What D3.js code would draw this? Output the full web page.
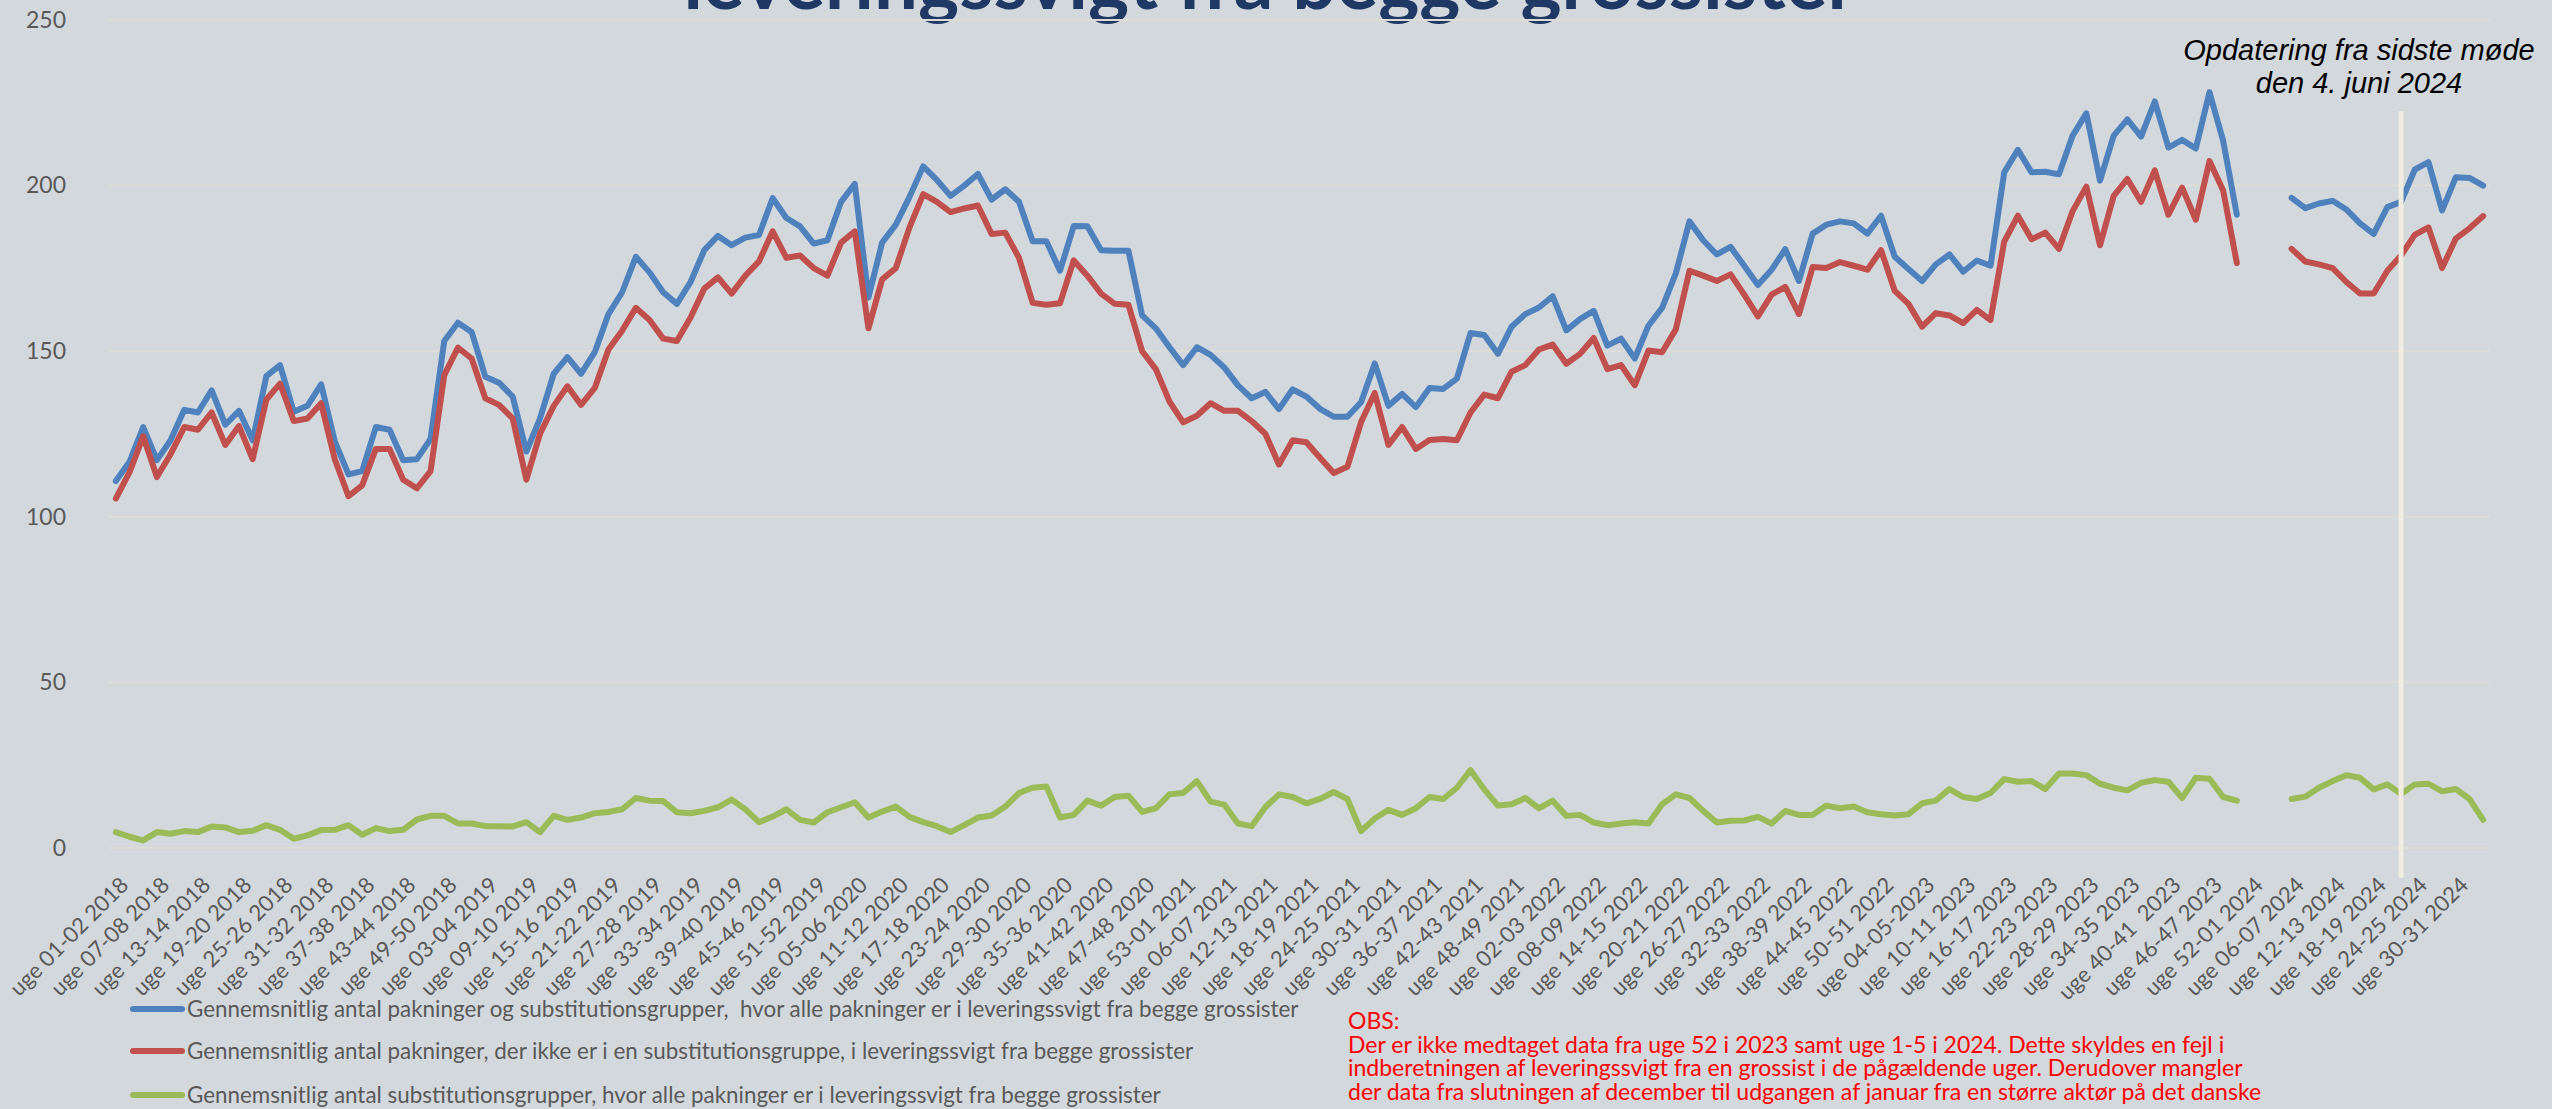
<!DOCTYPE html>
<html>
<head>
<meta charset="utf-8">
<script src="https://cdn.jsdelivr.net/npm/d3@7"></script>
<style>
  body { margin: 0; background: #d3d8dd; }
  svg { display: block; }
  text { font-family: Lato, "Open Sans", sans-serif; }
</style>
</head>
<body>
<svg width="2552" height="1109"></svg>
<script>
// week pairs (one point per two weeks)
var categories = [
  "uge 01-02 2018","uge 03-04 2018","uge 05-06 2018","uge 07-08 2018","uge 09-10 2018","uge 11-12 2018","uge 13-14 2018","uge 15-16 2018","uge 17-18 2018","uge 19-20 2018","uge 21-22 2018","uge 23-24 2018","uge 25-26 2018","uge 27-28 2018","uge 29-30 2018","uge 31-32 2018","uge 33-34 2018","uge 35-36 2018","uge 37-38 2018","uge 39-40 2018","uge 41-42 2018","uge 43-44 2018","uge 45-46 2018","uge 47-48 2018","uge 49-50 2018","uge 51-52 2018",
  "uge 01-02 2019","uge 03-04 2019","uge 05-06 2019","uge 07-08 2019","uge 09-10 2019","uge 11-12 2019","uge 13-14 2019","uge 15-16 2019","uge 17-18 2019","uge 19-20 2019","uge 21-22 2019","uge 23-24 2019","uge 25-26 2019","uge 27-28 2019","uge 29-30 2019","uge 31-32 2019","uge 33-34 2019","uge 35-36 2019","uge 37-38 2019","uge 39-40 2019","uge 41-42 2019","uge 43-44 2019","uge 45-46 2019","uge 47-48 2019","uge 49-50 2019","uge 51-52 2019",
  "uge 01-02 2020","uge 03-04 2020","uge 05-06 2020","uge 07-08 2020","uge 09-10 2020","uge 11-12 2020","uge 13-14 2020","uge 15-16 2020","uge 17-18 2020","uge 19-20 2020","uge 21-22 2020","uge 23-24 2020","uge 25-26 2020","uge 27-28 2020","uge 29-30 2020","uge 31-32 2020","uge 33-34 2020","uge 35-36 2020","uge 37-38 2020","uge 39-40 2020","uge 41-42 2020","uge 43-44 2020","uge 45-46 2020","uge 47-48 2020","uge 49-50 2020","uge 51-52 2020",
  "uge 53-01 2021",
  "uge 02-03 2021","uge 04-05 2021","uge 06-07 2021","uge 08-09 2021","uge 10-11 2021","uge 12-13 2021","uge 14-15 2021","uge 16-17 2021","uge 18-19 2021","uge 20-21 2021","uge 22-23 2021","uge 24-25 2021","uge 26-27 2021","uge 28-29 2021","uge 30-31 2021","uge 32-33 2021","uge 34-35 2021","uge 36-37 2021","uge 38-39 2021","uge 40-41 2021","uge 42-43 2021","uge 44-45 2021","uge 46-47 2021","uge 48-49 2021","uge 50-51 2021",
  "uge 52-01 2022",
  "uge 02-03 2022","uge 04-05 2022","uge 06-07 2022","uge 08-09 2022","uge 10-11 2022","uge 12-13 2022","uge 14-15 2022","uge 16-17 2022","uge 18-19 2022","uge 20-21 2022","uge 22-23 2022","uge 24-25 2022","uge 26-27 2022","uge 28-29 2022","uge 30-31 2022","uge 32-33 2022","uge 34-35 2022","uge 36-37 2022","uge 38-39 2022","uge 40-41 2022","uge 42-43 2022","uge 44-45 2022","uge 46-47 2022","uge 48-49 2022","uge 50-51 2022",
  "uge 52-01 2023",
  "uge 02-03 2023","uge 04-05-2023","uge 06-07 2023","uge 08-09 2023","uge 10-11 2023","uge 12-13 2023","uge 14-15 2023","uge 16-17 2023","uge 18-19 2023","uge 20-21 2023","uge 22-23 2023","uge 24-25 2023","uge 26-27 2023","uge 28-29 2023","uge 30-31 2023","uge 32-33 2023","uge 34-35 2023","uge 36-37 2023","uge 38-39 2023","uge 40-41  2023","uge 42-43 2023","uge 44-45 2023","uge 46-47 2023","uge 48-49 2023","uge 50-51 2023",
  "uge 52-01 2024",
  "uge 02-03 2024","uge 04-05 2024","uge 06-07 2024","uge 08-09 2024","uge 10-11 2024","uge 12-13 2024","uge 14-15 2024","uge 16-17 2024","uge 18-19 2024","uge 20-21 2024","uge 22-23 2024","uge 24-25 2024","uge 26-27 2024","uge 28-29 2024","uge 30-31 2024","uge 32-33 2024","uge 34-35 2024"
];

// pakninger og substitutionsgrupper (blue)
var pakningerOgGrupper = [
  110.8,116.6,127.1,117.1,123.1,132.3,131.5,138.2,127.8,132,123.1,142.5,145.8,131.7,133.5,140,122.8,112.8,113.8,127.1,126.3,117.1,117.4,123.5,153.1,158.6,
  155.8,142.3,140.5,136.3,119.7,129.7,143.2,148.2,143.2,149.7,161.2,167.8,178.5,173.8,167.8,164.3,170.9,180.5,184.8,182,184.3,185.1,196.2,190.2,187.7,182.5,
  183.5,195.1,200.5,166.2,182.8,188.2,196.6,205.8,201.7,196.9,200,203.5,195.8,198.9,195.1,183.2,183.2,174.3,187.8,187.7,180.5,180.3,180.3,160.8,156.9,151.2,
  145.8,
  151.2,148.9,145.1,139.7,135.8,137.7,132.5,138.5,136.3,132.6,130.2,130.2,134.6,146.3,133.5,137.1,133.1,138.9,138.6,141.7,155.5,154.9,149.2,157.4,161.2,
  163.2,
  166.6,156.3,159.7,162.2,151.7,153.8,147.8,157.7,163.1,173.5,189.2,183.5,179.2,181.5,175.8,170,174.6,180.8,171.2,185.5,188.2,189.2,188.6,185.5,190.9,
  178.5,
  174.8,171.2,176.2,179.2,174,177.4,175.8,204,210.8,204,204.2,203.4,215.1,221.8,201.5,215.1,220,214.8,225.4,211.5,213.8,211.2,228.2,213.5,191.2,
  null,
  null,null,196.3,193.2,194.6,195.4,192.8,188.6,185.4,193.5,195.1,204.8,207.1,192.5,202.5,202.3,200
];

// pakninger uden substitutionsgruppe (red)
var pakningerUdenGruppe = [
  105.5,113.5,124.3,112,118.9,127.1,126.3,131.5,121.7,127.4,117.4,135.4,140.2,128.9,129.7,134.3,117.4,106.2,109.5,120.5,120.5,111.2,108.6,113.8,142.8,151.1,
  147.8,135.8,133.8,129.7,111.2,125.1,133.5,139.4,133.8,138.9,150.5,156.2,163.1,159.4,153.8,153.1,160.2,168.9,172.3,167.4,172.8,177.1,186.2,178.2,178.9,175.1,
  172.8,182.8,186.2,156.9,171.7,175.1,187.4,197.4,195.1,192,193.1,194,185.4,185.8,178.2,164.6,164,164.5,177.4,172.8,167.4,164.3,164,150,144.6,134.8,
  128.5,
  130.5,134.3,132,132,128.9,125.1,115.8,123.1,122.5,117.8,113.2,115.1,128.6,137.4,121.7,127.1,120.5,123.2,123.5,123.1,131.5,136.9,135.8,143.8,145.8,
  150.5,
  152,146.2,149.2,154,144.6,145.8,139.7,150.2,149.7,156.6,174.3,172.8,171.2,173.2,167.1,160.5,167.1,169.4,161.2,175.4,175.1,176.9,175.8,174.6,180.5,
  168.2,
  164.3,157.4,161.5,160.8,158.5,162.5,159.4,183.1,190.9,183.8,185.8,180.9,192.3,199.7,182,196.9,202,195.1,204.6,191.2,199.4,189.7,207.4,198.5,176.6,
  null,
  null,null,180.9,177.1,176.2,175.1,170.9,167.4,167.4,174.3,178.9,185.1,187.4,175.1,184,187.1,190.8
];

// substitutionsgrupper (green)
var substitutionsgrupper = [
  4.8,3.4,2.3,4.8,4.3,5.1,4.8,6.5,6.2,4.8,5.2,6.9,5.5,2.8,3.8,5.4,5.5,6.9,4.0,6.0,5.1,5.5,8.6,9.7,9.7,7.4,
  7.4,6.6,6.6,6.5,7.8,4.8,9.7,8.5,9.2,10.5,10.9,11.7,15.1,14.3,14.2,10.8,10.5,11.2,12.3,14.6,11.7,7.8,9.5,11.7,8.5,7.7,
  10.8,12.3,13.8,9.2,11.0,12.5,9.4,7.8,6.6,4.8,6.9,9.2,9.8,12.5,16.6,18.2,18.6,9.2,10.0,14.3,12.8,15.4,15.8,10.9,12.0,16.2,
  16.6,
  20.2,14.0,13.1,7.4,6.6,12.3,16.2,15.4,13.5,14.8,16.9,14.8,5.1,8.9,11.5,10.0,12.0,15.4,14.8,18.2,23.5,17.7,12.8,13.2,15.1,
  12.0,
  14.3,9.7,10.0,7.7,6.9,7.4,7.8,7.4,13.2,16.2,15.1,11.2,7.7,8.2,8.3,9.4,7.4,11.2,10.0,10.0,12.8,12.0,12.5,10.8,10.2,
  9.8,
  10.2,13.5,14.3,17.8,15.4,14.8,16.6,20.8,20.0,20.2,17.8,22.5,22.5,22.0,19.4,18.2,17.4,19.7,20.5,20.0,15.1,21.2,20.9,15.4,14.3,
  null,
  null,null,14.8,15.5,18.2,20.2,22.0,21.2,17.7,19.2,16.3,19.2,19.4,17.1,17.8,14.8,8.5
];

var yTicks = [0, 50, 100, 150, 200, 250];
var seriesNames = [
  "Gennemsnitlig antal pakninger og substitutionsgrupper,  hvor alle pakninger er i leveringssvigt fra begge grossister",
  "Gennemsnitlig antal pakninger, der ikke er i en substitutionsgruppe, i leveringssvigt fra begge grossister",
  "Gennemsnitlig antal substitutionsgrupper, hvor alle pakninger er i leveringssvigt fra begge grossister"
];
var seriesColors = ["#4f81bd", "#c0504d", "#9bbb59"];
var meetingWeek = "uge 22-23 2024";
var noteLines = ["Opdatering fra sidste møde", "den 4. juni 2024"];
var obsLines = [
  "OBS:",
  "Der er ikke medtaget data fra uge 52 i 2023 samt uge 1-5 i 2024. Dette skyldes en fejl i",
  "indberetningen af leveringssvigt fra en grossist i de pågældende uger. Derudover mangler",
  "der data fra slutningen af december til udgangen af januar fra en større aktør på det danske"
];

var svg = d3.select("svg"),
  margin = {top: 20, right: 62, bottom: 261, left: 109},
  width = +svg.attr("width") - margin.left - margin.right,
  height = +svg.attr("height") - margin.top - margin.bottom;

var x = d3.scalePoint().domain(categories).range([margin.left, margin.left + width]).padding(0.5);
var y = d3.scaleLinear().domain([0, 250]).range([margin.top + height, margin.top]);

// title (top line is outside the picture)
svg.append("text")
  .attr("x", 1270).attr("y", 9)
  .attr("text-anchor", "middle")
  .style("font-size", "78px").style("font-weight", "bold")
  .style("fill", "#1f3864")
  .text("leveringssvigt fra begge grossister");

// grid
svg.append("g").selectAll("line")
  .data(yTicks).enter().append("line")
  .attr("x1", margin.left).attr("x2", margin.left + width)
  .attr("y1", d => y(d)).attr("y2", d => y(d))
  .attr("stroke", "#dedcd7").attr("stroke-width", 2);

// y axis
var yAxis = svg.append("g")
  .attr("transform", "translate(" + margin.left + ",0)")
  .call(d3.axisLeft(y).tickValues(yTicks).tickSize(0).tickPadding(43));
yAxis.select(".domain").remove();
yAxis.selectAll("text").style("font-size", "23px").style("fill", "#595959").style("font-family", "Lato");

// x axis
var xAxis = svg.append("g")
  .attr("transform", "translate(0," + (margin.top + height) + ")")
  .call(d3.axisBottom(x).tickValues(categories.filter((c, i) => i % 3 === 0)).tickSize(0));
xAxis.select(".domain").remove();
xAxis.selectAll("text")
  .attr("x", 0).attr("y", 0).attr("dy", "0.35em")
  .attr("transform", "translate(8,33) rotate(-45)")
  .style("text-anchor", "end")
  .style("white-space", "pre")
  .style("font-size", "22px").style("fill", "#595959").style("font-family", "Lato");

// lines
var allSeries = [pakningerOgGrupper, pakningerUdenGruppe, substitutionsgrupper];
var line = d3.line()
  .defined(d => d != null)
  .x((d, i) => x(categories[i]))
  .y(d => y(d));

allSeries.forEach(function(values, k) {
  svg.append("path")
    .datum(values)
    .attr("fill", "none")
    .attr("stroke", seriesColors[k])
    .attr("stroke-width", 6)
    .attr("stroke-linejoin", "round")
    .attr("stroke-linecap", "round")
    .attr("d", line);
});

// meeting marker
svg.append("line")
  .attr("x1", x(meetingWeek)).attr("x2", x(meetingWeek))
  .attr("y1", 111).attr("y2", 878)
  .attr("stroke", "#f0ece2").attr("stroke-width", 5);

svg.append("g").selectAll("text")
  .data(noteLines).enter().append("text")
  .attr("x", 2359).attr("y", (d, i) => 50 + i * 33)
  .attr("dy", "0.35em")
  .attr("text-anchor", "middle")
  .style("font-family", "'Liberation Sans', Arial, sans-serif")
  .style("font-style", "italic")
  .style("font-size", "29px")
  .style("fill", "#000")
  .text(d => d);

// legend
var legend = svg.append("g").selectAll("g")
  .data(seriesNames).enter().append("g")
  .attr("transform", (d, i) => "translate(133," + [1009, 1051, 1095][i] + ")");
legend.append("line")
  .attr("x1", 0).attr("x2", 49)
  .attr("stroke", (d, i) => seriesColors[i])
  .attr("stroke-width", 6).attr("stroke-linecap", "round");
legend.append("text")
  .attr("x", 54).attr("dy", "0.35em")
  .style("white-space", "pre")
  .style("font-size", "22.4px").style("fill", "#595959")
  .text(d => d);

// note in red
svg.append("g").selectAll("text")
  .data(obsLines).enter().append("text")
  .attr("x", 1348).attr("y", (d, i) => 1021 + i * 23.5)
  .attr("dy", "0.35em")
  .style("font-size", "23px").style("fill", "#ff0000")
  .text(d => d);
</script>
</body>
</html>
